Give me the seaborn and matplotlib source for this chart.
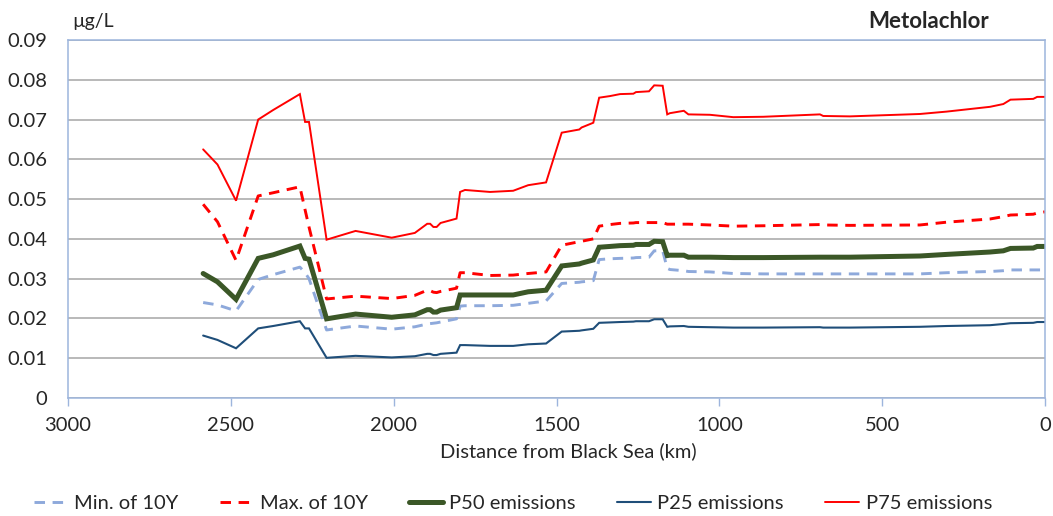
import matplotlib
matplotlib.use("Agg")
import matplotlib.pyplot as plt
import seaborn as sns
import numpy as np

# ---------------- data ----------------
distance_km = [2585, 2541, 2484, 2416, 2370, 2288, 2272, 2260, 2206, 2117, 2006, 1935,
               1897, 1888, 1878, 1868, 1856, 1807, 1796, 1781, 1704, 1633, 1587, 1532,
               1484, 1430, 1423, 1387, 1369, 1336, 1305, 1264, 1256, 1216, 1200, 1174,
               1160, 1152, 1109, 1095, 1029, 957, 865, 691, 681, 599, 384, 302, 169,
               128, 106, 36, 24, 0]

min_10y = [0.0240, 0.0234, 0.0219, 0.0298, 0.0310, 0.0329, 0.0315, 0.0300, 0.0171, 0.0181,
           0.0173, 0.0179, 0.0186, 0.0187, 0.0188, 0.0189, 0.0191, 0.0199, 0.0231, 0.0232,
           0.0232, 0.0233, 0.0238, 0.0244, 0.0288, 0.0291, 0.0292, 0.0295, 0.0348, 0.0350,
           0.0351, 0.0352, 0.0353, 0.0354, 0.0370, 0.0370, 0.0326, 0.0323, 0.0320, 0.0318,
           0.0317, 0.0313, 0.0312, 0.0312, 0.0312, 0.0312, 0.0312, 0.0315, 0.0318, 0.0320,
           0.0322, 0.0322, 0.0322, 0.0322]

max_10y = [0.0487, 0.0443, 0.0346, 0.0508, 0.0516, 0.0531, 0.0473, 0.0430, 0.0249, 0.0256,
           0.0250, 0.0258, 0.0271, 0.0270, 0.0266, 0.0265, 0.0268, 0.0276, 0.0315, 0.0315,
           0.0308, 0.0309, 0.0313, 0.0317, 0.0384, 0.0393, 0.0394, 0.0400, 0.0432, 0.0436,
           0.0439, 0.0440, 0.0441, 0.0441, 0.0441, 0.0441, 0.0437, 0.0437, 0.0437, 0.0437,
           0.0435, 0.0432, 0.0433, 0.0436, 0.0435, 0.0434, 0.0435, 0.0442, 0.0450, 0.0456,
           0.0460, 0.0462, 0.0465, 0.0468]

p50 = [0.0313, 0.0292, 0.0248, 0.0351, 0.0360, 0.0382, 0.0351, 0.0349, 0.0199, 0.0211,
       0.0203, 0.0209, 0.0222, 0.0222, 0.0216, 0.0216, 0.0221, 0.0227, 0.0259, 0.0259,
       0.0259, 0.0259, 0.0267, 0.0271, 0.0332, 0.0337, 0.0339, 0.0347, 0.0379, 0.0381,
       0.0383, 0.0384, 0.0386, 0.0386, 0.0394, 0.0393, 0.0358, 0.0359, 0.0359, 0.0354,
       0.0354, 0.0353, 0.0353, 0.0354, 0.0354, 0.0354, 0.0357, 0.0361, 0.0367, 0.0370,
       0.0376, 0.0377, 0.0381, 0.0381]

p25 = [0.0157, 0.0146, 0.0125, 0.0175, 0.0181, 0.0193, 0.0175, 0.0175, 0.0101, 0.0106,
       0.0102, 0.0105, 0.0111, 0.0111, 0.0108, 0.0108, 0.0111, 0.0114, 0.0133, 0.0133,
       0.0131, 0.0131, 0.0135, 0.0137, 0.0167, 0.0169, 0.0170, 0.0174, 0.0189, 0.0190,
       0.0191, 0.0192, 0.0193, 0.0193, 0.0198, 0.0198, 0.0179, 0.0180, 0.0181, 0.0179,
       0.0178, 0.0177, 0.0177, 0.0178, 0.0177, 0.0177, 0.0179, 0.0181, 0.0183, 0.0186,
       0.0188, 0.0189, 0.0191, 0.0191]

p75 = [0.0625, 0.0587, 0.0496, 0.0700, 0.0724, 0.0764, 0.0694, 0.0694, 0.0398, 0.0420,
       0.0403, 0.0415, 0.0438, 0.0438, 0.0430, 0.0430, 0.0440, 0.0451, 0.0518, 0.0523,
       0.0518, 0.0521, 0.0535, 0.0542, 0.0667, 0.0675, 0.0680, 0.0692, 0.0755, 0.0759,
       0.0764, 0.0765, 0.0769, 0.0771, 0.0786, 0.0785, 0.0713, 0.0716, 0.0722, 0.0713,
       0.0712, 0.0706, 0.0707, 0.0713, 0.0709, 0.0708, 0.0714, 0.0720, 0.0732, 0.0739,
       0.0750, 0.0752, 0.0757, 0.0757]

series_labels = ["Min. of 10Y", "Max. of 10Y", "P50 emissions", "P25 emissions", "P75 emissions"]
x_ticks = [3000, 2500, 2000, 1500, 1000, 500, 0]
y_ticks = [0, 0.01, 0.02, 0.03, 0.04, 0.05, 0.06, 0.07, 0.08, 0.09]
y_tick_labels = ["0", "0.01", "0.02", "0.03", "0.04", "0.05", "0.06", "0.07", "0.08", "0.09"]

# ---------------- plot ----------------
sns.set_theme(style="white")
plt.rcParams["font.family"] = ["Lato", "DejaVu Sans"]

fig = plt.figure(figsize=(10.53, 5.16), dpi=100)
ax = fig.add_axes([68 / 1053, 1 - 398 / 516, (1045 - 68) / 1053, (398 - 40) / 516])

styles = [
    dict(color="#8EA9DB", lw=2.1, dashes=(3.6, 2.6)),
    dict(color="#FF0000", lw=2.1, dashes=(3.6, 2.6)),
    dict(color="#3B5727", lw=3.6, dashes=None),
    dict(color="#1F4E79", lw=1.5, dashes=None),
    dict(color="#FF0000", lw=1.4, dashes=None),
]
values = [min_10y, max_10y, p50, p25, p75]

for vals, lab, st in zip(values, series_labels, styles):
    sns.lineplot(x=distance_km, y=vals, ax=ax, color=st["color"], linewidth=st["lw"],
                 label=lab, sort=False, solid_joinstyle="miter")
    line = ax.get_lines()[-1]
    if st["dashes"] is not None:
        line.set_dashes(st["dashes"])
        line.set_dash_capstyle("butt")

ax.set_xlim(3000, 0)
ax.set_ylim(0, 0.09)
ax.set_xticks(x_ticks)
ax.set_xticklabels([str(t) for t in x_ticks])
ax.set_yticks(y_ticks)
ax.set_yticklabels(y_tick_labels)
ax.yaxis.grid(True, color="#A6A6A6", linewidth=1.1)
ax.set_axisbelow(True)

for sp in ax.spines.values():
    sp.set_color("#9DB5DD")
    sp.set_linewidth(1.1)

ax.tick_params(axis="x", direction="out", length=6, width=1, color="#9DB5DD",
               labelsize=14.5, pad=8, bottom=True)
ax.tick_params(axis="y", length=0, labelsize=14.5, pad=15)

ax.set_xlabel("Distance from Black Sea (km)", fontsize=14.5, labelpad=7)
ax.xaxis.set_label_coords(0.512, -0.125)
ax.set_ylabel("")

fig.text(72 / 1053, 1 - 21 / 516, "µg/L", fontsize=14, va="center", ha="left")
fig.text(989 / 1053, 1 - 21 / 516, "Metolachlor", fontsize=16, fontweight="bold",
         va="center", ha="right")

handles, labels = ax.get_legend_handles_labels()
ax.get_legend().remove()
fig.legend(handles, labels, loc="center", bbox_to_anchor=(0.487, 1 - 503 / 516), ncol=5,
           frameon=False, fontsize=14.5, handlelength=1.7, handletextpad=0.3,
           columnspacing=2.05)

fig.savefig("out.png", dpi=100)
